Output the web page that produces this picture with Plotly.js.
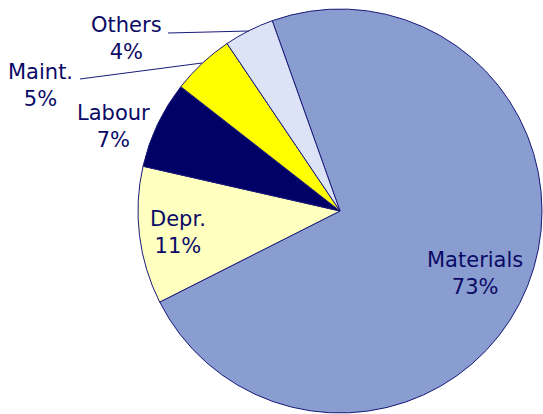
<!DOCTYPE html>
<html>
<head>
<meta charset="utf-8">
<script src="https://cdn.plot.ly/plotly-3.0.1.min.js"></script>
<style>html,body{margin:0;padding:0;background:#fff;}#chart{width:543px;height:414px;}</style>
</head>
<body>
<div id="chart"></div>
<script>
const categories = ["Materials", "Depr.", "Labour", "Maint.", "Others"];
const shares = [73, 11, 7, 5, 4];
const sliceColors = ["#8A9DD0", "#FFFFC0", "#000066", "#FFFF00", "#DCE3F6"];

const W = 543, H = 414;
const px = x => x / W;
const py = y => 1 - y / H;

// label anchor positions (pixels) for each category
const labelPos = [[475, 273], [178, 233], [113, 126], [40, 85], [126, 39]];
const total = shares.reduce((a, b) => a + b, 0);

const annotations = categories.map((c, i) => ({
  xref: "paper", yref: "paper",
  x: px(labelPos[i][0]), y: py(labelPos[i][1]),
  xanchor: "center", yanchor: "middle",
  text: c + "<br>" + Math.round(shares[i] / total * 100) + "%",
  showarrow: false,
  font: {family: "DejaVu Sans, Verdana, sans-serif", size: 21, color: "#0A0A66"}
}));

const leaders = [
  [[168, 33], [249, 31]],
  [[80, 79], [202, 63]]
];
const shapes = leaders.map(l => ({
  type: "line", xref: "paper", yref: "paper",
  x0: px(l[0][0]), y0: py(l[0][1]), x1: px(l[1][0]), y1: py(l[1][1]),
  line: {color: "#1A1A7A", width: 1}
}));

const trace = {
  type: "pie",
  labels: categories,
  values: shares,
  sort: false,
  direction: "clockwise",
  rotation: -19.6,
  textinfo: "none",
  hoverinfo: "none",
  marker: {colors: sliceColors, line: {color: "#1A1A7A", width: 1}},
  domain: {x: [px(138), px(542)], y: [py(413), py(9)]}
};

Plotly.newPlot("chart", [trace], {
  width: W, height: H,
  margin: {l: 0, r: 0, t: 0, b: 0},
  showlegend: false,
  paper_bgcolor: "#fff",
  annotations: annotations,
  shapes: shapes
}, {staticPlot: true});
</script>
</body>
</html>
